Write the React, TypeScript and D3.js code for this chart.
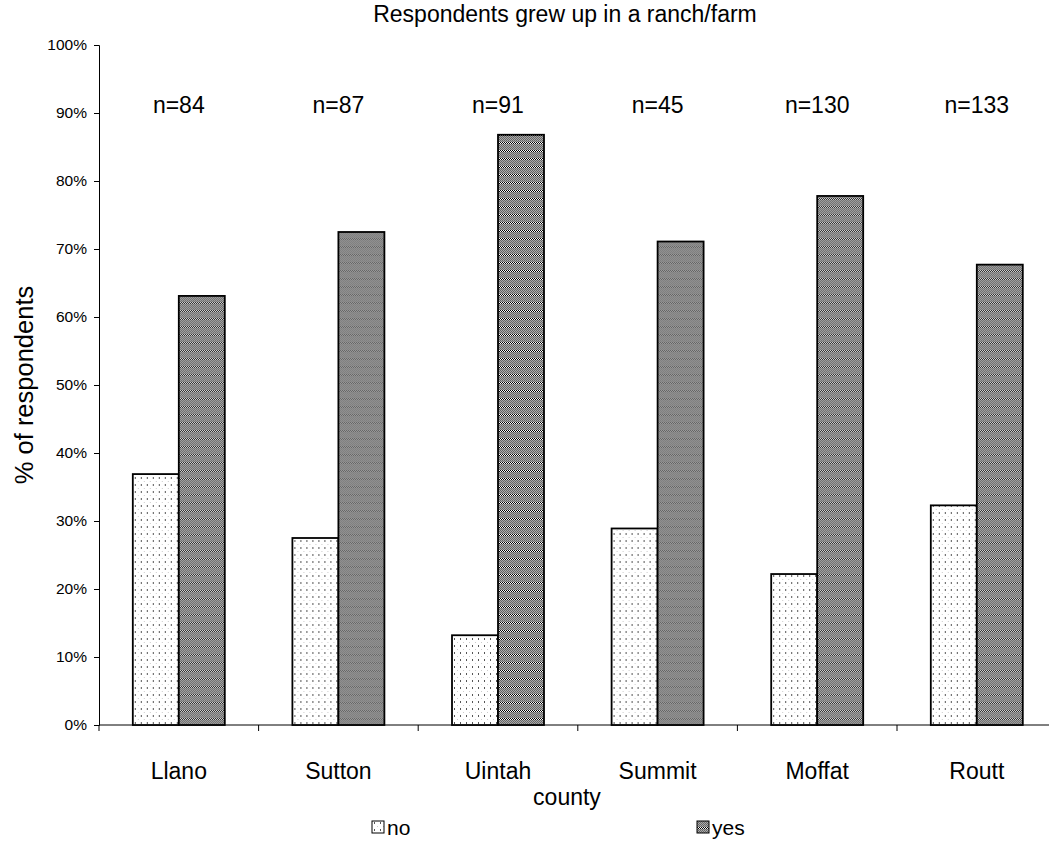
import { useEffect, useRef } from 'react';
import * as d3 from 'd3';

const counties = ['Llano', 'Sutton', 'Uintah', 'Summit', 'Moffat', 'Routt'];
const sampleSizes = ['n=84', 'n=87', 'n=91', 'n=45', 'n=130', 'n=133'];
const noValues = [36.9, 27.5, 13.2, 28.9, 22.2, 32.3];
const yesValues = [63.1, 72.5, 86.8, 71.1, 77.8, 67.7];
const seriesNames = ['no', 'yes'];
const yTicks = [0, 10, 20, 30, 40, 50, 60, 70, 80, 90, 100];

const W = 1049;
const H = 848;
const FONT = 'Liberation Sans, Arial, sans-serif';

export default function App() {
  const ref = useRef<SVGSVGElement>(null);

  useEffect(() => {
    if (!ref.current) return;
    const svg = d3.select(ref.current);
    svg.selectAll('*').remove();

    const left = 99;
    const step = 159.6;
    const top = 45;
    const bottom = 725;

    // patterns
    const defs = svg.append('defs');
    const pNo = defs.append('pattern')
      .attr('id', 'pat-no')
      .attr('patternUnits', 'userSpaceOnUse')
      .attr('width', 6).attr('height', 7);
    pNo.append('rect').attr('width', 6).attr('height', 7).attr('fill', '#fff');
    pNo.append('rect').attr('x', 2).attr('y', 1).attr('width', 1).attr('height', 2).attr('fill', '#555');
    pNo.append('rect').attr('x', 5).attr('y', 5).attr('width', 1).attr('height', 1).attr('fill', '#ccc');

    const pYes = defs.append('pattern')
      .attr('id', 'pat-yes')
      .attr('patternUnits', 'userSpaceOnUse')
      .attr('width', 2).attr('height', 8);
    pYes.append('rect').attr('width', 2).attr('height', 8).attr('fill', '#8c8c8c');
    for (let r = 0; r < 8; r++) {
      const stripe = r === 6 || r === 7;
      pYes.append('rect').attr('x', r % 2).attr('y', r).attr('width', 1).attr('height', 1)
        .attr('fill', stripe ? '#000' : '#666');
      pYes.append('rect').attr('x', (r + 1) % 2).attr('y', r).attr('width', 1).attr('height', 1)
        .attr('fill', stripe ? '#fff' : '#aaa');
    }

    const x0 = d3.scaleBand<string>()
      .domain(counties)
      .range([left, left + step * counties.length])
      .paddingInner(0.4236)
      .paddingOuter(0.2118);
    const x1 = d3.scaleBand<string>()
      .domain(seriesNames)
      .range([0, x0.bandwidth()]);
    const y = d3.scaleLinear().domain([0, 100]).range([bottom, top]);

    // y axis
    const yAxis = svg.append('g')
      .attr('transform', `translate(${left},0)`)
      .call(d3.axisLeft(y).tickValues(yTicks).tickSize(5).tickPadding(7).tickFormat(d => `${d}%`));
    yAxis.select('.domain').attr('stroke', '#000');
    yAxis.selectAll('line').attr('stroke', '#000');
    yAxis.selectAll('text').attr('font-family', FONT).attr('font-size', 15.5).attr('fill', '#000');

    // x axis
    const boundaries = d3.range(counties.length + 1).map(i => left + i * step);
    svg.append('line')
      .attr('x1', left).attr('x2', W)
      .attr('y1', y(0)).attr('y2', y(0))
      .attr('stroke', '#000');
    svg.selectAll('.xtick')
      .data(boundaries)
      .enter()
      .append('line')
      .attr('class', 'xtick')
      .attr('x1', d => d).attr('x2', d => d)
      .attr('y1', y(0)).attr('y2', y(0) + 6)
      .attr('stroke', '#000');

    // bars
    const groups = svg.selectAll('.grp')
      .data(counties)
      .enter()
      .append('g')
      .attr('class', 'grp')
      .attr('transform', d => `translate(${x0(d)},0)`);

    groups.append('rect')
      .attr('x', x1('no')!)
      .attr('y', (_, i) => y(noValues[i]))
      .attr('width', x1.bandwidth())
      .attr('height', (_, i) => y(0) - y(noValues[i]))
      .attr('fill', 'url(#pat-no)')
      .attr('stroke', '#000')
      .attr('stroke-width', 1.8);

    groups.append('rect')
      .attr('x', x1('yes')!)
      .attr('y', (_, i) => y(yesValues[i]))
      .attr('width', x1.bandwidth())
      .attr('height', (_, i) => y(0) - y(yesValues[i]))
      .attr('fill', 'url(#pat-yes)')
      .attr('stroke', '#000')
      .attr('stroke-width', 1.8);

    // n labels
    groups.append('text')
      .attr('x', x0.bandwidth() / 2)
      .attr('y', 113)
      .attr('text-anchor', 'middle')
      .attr('font-family', FONT)
      .attr('font-size', 23)
      .text((_, i) => sampleSizes[i]);

    // category labels
    groups.append('text')
      .attr('x', x0.bandwidth() / 2)
      .attr('y', 779)
      .attr('text-anchor', 'middle')
      .attr('font-family', FONT)
      .attr('font-size', 23)
      .text(d => d);

    // title
    svg.append('text')
      .attr('x', 565).attr('y', 22)
      .attr('text-anchor', 'middle')
      .attr('font-family', FONT)
      .attr('font-size', 23)
      .text('Respondents grew up in a ranch/farm');

    // axis titles
    svg.append('text')
      .attr('x', 567).attr('y', 805)
      .attr('text-anchor', 'middle')
      .attr('font-family', FONT)
      .attr('font-size', 23)
      .text('county');

    svg.append('text')
      .attr('transform', `translate(33,${(top + bottom) / 2}) rotate(-90)`)
      .attr('text-anchor', 'middle')
      .attr('font-family', FONT)
      .attr('font-size', 25.5)
      .text('% of respondents');

    // legend
    const legendX = [372, 697];
    const legend = svg.selectAll('.leg')
      .data(seriesNames)
      .enter()
      .append('g')
      .attr('class', 'leg')
      .attr('transform', (_, i) => `translate(${legendX[i]},821)`);
    legend.append('rect')
      .attr('width', 12).attr('height', 12)
      .attr('fill', (d) => `url(#pat-${d})`)
      .attr('stroke', '#000');
    legend.append('text')
      .attr('x', 15).attr('y', 14)
      .attr('font-family', FONT)
      .attr('font-size', 21)
      .text(d => d);
  }, []);

  return (
    <svg
      ref={ref}
      width={W}
      height={H}
      style={{ position: 'absolute', left: 0, top: 0, background: '#fff' }}
    />
  );
}
